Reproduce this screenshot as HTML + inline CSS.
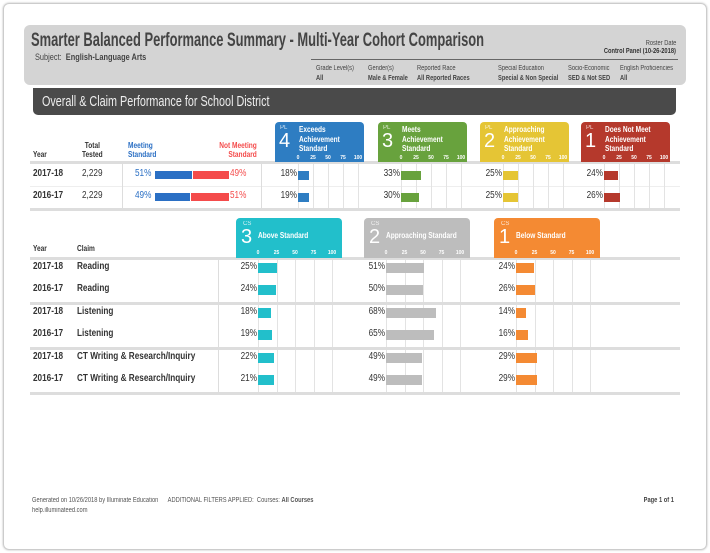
<!DOCTYPE html>
<html><head><meta charset="utf-8">
<style>
*{box-sizing:border-box;margin:0;padding:0}
body{width:710px;height:553px;background:#fff;font-family:"Liberation Sans",sans-serif;color:#333;position:relative;overflow:hidden}
.a{position:absolute;white-space:nowrap}
.b{font-weight:bold}
.n{transform:scaleX(.82);transform-origin:left center}
.nr{transform:scaleX(.82);transform-origin:right center}
</style></head><body>
<div class="a" style="left:3px;top:3px;width:704px;height:547px;border:1px solid #ccc;border-radius:6px;box-shadow:0 0 2px #bbb"></div>
<div class="a" style="left:24px;top:25px;width:662px;height:60px;background:#d4d4d4;border-radius:6px"></div>
<div class="a b" style="left:31px;top:30px;font-size:19px;color:#444;transform:scaleX(.68);transform-origin:left center">Smarter Balanced Performance Summary - Multi-Year Cohort Comparison</div>
<div class="a n" style="left:35px;top:52px;font-size:9px;color:#444">Subject: &nbsp;<b>English-Language Arts</b></div>
<div class="a nr" style="right:34px;top:40px;font-size:7px;color:#444">Roster Date</div>
<div class="a b nr" style="right:34px;top:48px;font-size:7px;color:#333">Control Panel (10-26-2018)</div>
<div class="a" style="left:311px;top:59px;width:367px;height:1px;background:#666"></div>
<div class="a" style="left:0;top:64px;font-size:7px;color:#444;line-height:10px">
<div class="a n" style="left:316px">Grade Level(s)<br><b>All</b></div>
<div class="a n" style="left:368px">Gender(s)<br><b>Male &amp; Female</b></div>
<div class="a n" style="left:417px">Reported Race<br><b>All Reported Races</b></div>
<div class="a n" style="left:498px">Special Education<br><b>Special &amp; Non Special</b></div>
<div class="a n" style="left:568px">Socio-Economic<br><b>SED &amp; Not SED</b></div>
<div class="a n" style="left:620px">English Proficiencies<br><b>All</b></div>
</div>
<div class="a" style="left:33px;top:88px;width:643px;height:27px;background:#4a4a4a;border-radius:0 0 5px 5px"></div>
<div class="a" style="left:42px;top:93px;color:#eee;font-size:15px;transform:scaleX(.72);transform-origin:left center">Overall &amp; Claim Performance for School District</div>
<div id="top"></div>
<div id="bot"></div>
<div class="a n" style="left:32px;top:497px;font-size:7px;color:#555">Generated on 10/26/2018 by Illuminate Education &nbsp;&nbsp;&nbsp;&nbsp; ADDITIONAL FILTERS APPLIED: &nbsp;Courses: <b>All Courses</b></div>
<div class="a n" style="left:32px;top:507px;font-size:7px;color:#555">help.illuminateed.com</div>
<div class="a b nr" style="right:36px;top:497px;font-size:7px;color:#444">Page 1 of 1</div>
<script>
const years=["2017-18","2016-17"];
const tested=["2,229","2,229"];
const meeting=[51,49];
const notMeeting=[49,51];
const plNames=["Exceeds Achievement Standard","Meets Achievement Standard","Approaching Achievement Standard","Does Not Meet Achievement Standard"];
const plNums=["4","3","2","1"];
const plValues=[[18,19],[33,30],[25,25],[24,26]];
const claimYears=["2017-18","2016-17","2017-18","2016-17","2017-18","2016-17"];
const claims=["Reading","Reading","Listening","Listening","CT Writing & Research/Inquiry","CT Writing & Research/Inquiry"];
const csNames=["Above Standard","Approaching Standard","Below Standard"];
const csNums=["3","2","1"];
const csValues=[[25,24,18,19,22,21],[51,50,68,65,49,49],[24,26,14,16,29,29]];
const ticks=[0,25,50,75,100];

const plColors=["#2e7dc2","#68a23d","#e5c535","#b5392c"];
const csColors=["#22bfcb","#bdbdbd","#f48a33"];
function mk(parent,css,name,inter,html,cls){const e=document.createElement('div');e.className='a'+(cls?' '+cls:'');e.style.cssText=css;


if(html!==undefined)e.innerHTML=html;parent.appendChild(e);return e;}
const T=document.getElementById('top'),B=document.getElementById('bot');
mk(T,'left:33px;top:150px;font-size:8px;font-weight:bold','year-header',false,'Year','n');
mk(T,'left:82px;top:141px;font-size:8px;font-weight:bold;text-align:center;line-height:9px','total-tested-header',false,'Total<br>Tested','n');
mk(T,'left:128px;top:141px;font-size:8px;font-weight:bold;color:#2a6fc4;line-height:9px','meeting-header',false,'Meeting<br>Standard','n');
mk(T,'right:453px;top:141px;font-size:8px;font-weight:bold;color:#f44b4b;line-height:9px;text-align:right','not-meeting-header',false,'Not Meeting<br>Standard','nr');
mk(T,'left:30px;top:161px;width:650px;height:3px;background:#ddd','top-header-line',false);
mk(T,'left:30px;top:208px;width:650px;height:3px;background:#ddd','top-bottom-line',false);
mk(T,'left:30px;top:186px;width:650px;height:1px;background:#eee','top-row-divider',false);
mk(T,'left:122px;top:164px;width:1px;height:44px;background:#ddd','top-sep-1',false);
mk(T,'left:261px;top:164px;width:1px;height:44px;background:#ddd','top-sep-2',false);
const plX=[275,378,480,581];
const rowY=[175,197];
years.forEach((y,i)=>{
 mk(T,`left:33px;top:${rowY[i]-7}px;font-size:10px;font-weight:bold`,'year-'+i,false,y,'n');
 mk(T,`left:82px;top:${rowY[i]-7}px;font-size:10px`,'total-'+i,false,tested[i],'n');
 const tot=74,mw=meeting[i]/100*tot;
 mk(T,`left:135px;top:${rowY[i]-7}px;font-size:10px;color:#2a6fc4`,'meeting-value-'+i,false,meeting[i]+'%','n');
 mk(T,`left:155px;top:${rowY[i]-4}px;width:${mw-1}px;height:8px;background:#2a6fc4`,'meeting-bar-'+i,false);
 mk(T,`left:${155+mw}px;top:${rowY[i]-4}px;width:${tot-mw}px;height:8px;background:#f44b4b`,'not-meeting-bar-'+i,false);
 mk(T,`left:230px;top:${rowY[i]-7}px;font-size:10px;color:#f44b4b`,'not-meeting-value-'+i,false,notMeeting[i]+'%','n');
});
const sx=v=>v*0.6;
plX.forEach((x,k)=>{
 const h=mk(T,`left:${x}px;top:122px;width:89px;height:40px;background:${plColors[k]};border-radius:4px 4px 0 0;color:#fff`,'pl'+plNums[k]+'-header',false);
 mk(h,'left:5px;top:3px;font-size:6px;opacity:.8','pl-label',false,'PL');
 mk(h,'left:4px;top:8px;font-size:20px;font-weight:300','pl-number',false,plNums[k]);
 mk(h,'left:24px;top:3px;font-size:8px;font-weight:bold;white-space:normal;width:70px;line-height:9.5px','pl-name',false,plNames[k],'n');
 const x0=x+23;
 ticks.forEach(t=>{
  mk(T,`left:${x0+sx(t)-6}px;top:155px;width:12px;text-align:center;font-size:5px;color:#fff;font-weight:bold`,'tick-label',false,t);
  mk(T,`left:${x0+sx(t)}px;top:164px;width:1px;height:44px;background:#e3e3e3`,'gridline',false);
 });
 plValues[k].forEach((v,i)=>{
  mk(T,`left:${x0-25}px;top:${rowY[i]-7}px;width:24px;text-align:right;font-size:10px`,'pl-value',false,v+'%','nr');
  mk(T,`left:${x0}px;top:${rowY[i]-4}px;width:${sx(v)}px;height:9px;background:${plColors[k]}`,'pl'+plNums[k]+'-bar-'+i,false);
 });
});
mk(B,'left:33px;top:244px;font-size:8px;font-weight:bold','claim-year-header',false,'Year','n');
mk(B,'left:77px;top:244px;font-size:8px;font-weight:bold','claim-header',false,'Claim','n');
[257,302,347,392].forEach((y,i)=>mk(B,`left:30px;top:${y}px;width:650px;height:3px;background:#ddd`,'group-line-'+i,false));
const cy=[268,290,313,335,358,380];
cy.forEach((y,i)=>{
 mk(B,`left:33px;top:${y-7}px;font-size:10px;font-weight:bold`,'claim-year-'+i,false,claimYears[i],'n');
 mk(B,`left:77px;top:${y-7}px;font-size:10px;font-weight:bold`,'claim-name-'+i,false,claims[i].replace('&','&amp;'),'n');
});
mk(B,'left:218px;top:260px;width:1px;height:132px;background:#ddd','claim-sep',false);
const csX=[236,364,494];
const cx=v=>v*0.74;
csX.forEach((x,k)=>{
 const h=mk(B,`left:${x}px;top:218px;width:106px;height:40px;background:${csColors[k]};border-radius:4px 4px 0 0;color:#fff`,'cs'+csNums[k]+'-header',false);
 mk(h,'left:7px;top:3px;font-size:6px;opacity:.8','cs-label',false,'CS');
 mk(h,'left:5px;top:8px;font-size:20px;font-weight:300','cs-number',false,csNums[k]);
 mk(h,'left:22px;top:13px;font-size:8px;font-weight:bold','cs-name',false,csNames[k],'n');
 const x0=x+22;
 ticks.forEach(t=>{
  mk(B,`left:${x0+cx(t)-6}px;top:250px;width:12px;text-align:center;font-size:5px;color:#fff;font-weight:bold`,'tick-label',false,t);
  [[260,42],[305,42],[350,42]].forEach(g=>mk(B,`left:${x0+cx(t)}px;top:${g[0]}px;width:1px;height:${g[1]}px;background:#e3e3e3`,'gridline',false));
 });
 csValues[k].forEach((v,i)=>{
  mk(B,`left:${x0-25}px;top:${cy[i]-7}px;width:24px;text-align:right;font-size:10px`,'cs-value',false,v+'%','nr');
  mk(B,`left:${x0}px;top:${cy[i]-5}px;width:${cx(v)}px;height:10px;background:${csColors[k]}`,'cs'+csNums[k]+'-bar-'+i,false);
 });
});
</script>
</body></html>
